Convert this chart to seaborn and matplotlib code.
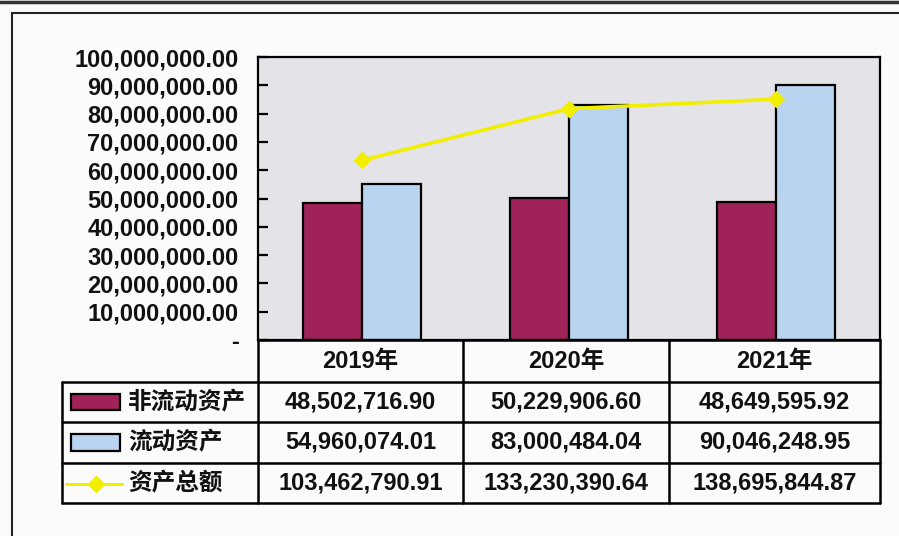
import matplotlib
matplotlib.use("Agg")
import matplotlib.pyplot as plt
from matplotlib.lines import Line2D
from matplotlib.patches import Rectangle
from matplotlib.ticker import FuncFormatter, MultipleLocator
import seaborn as sns
import pandas as pd
import numpy as np

# ---------------- data ----------------
years = ["2019年", "2020年", "2021年"]
series_names = ["非流动资产", "流动资产", "资产总额"]
non_current = [48502716.90, 50229906.60, 48649595.92]
current = [54960074.01, 83000484.04, 90046248.95]
total = [103462790.91, 133230390.64, 138695844.87]

colors = {"非流动资产": "#9f2358", "流动资产": "#b9d4f0", "资产总额": "#f2ee00"}

sns.set_theme(style="white")
plt.rcParams["font.family"] = ["Liberation Sans", "Noto Sans CJK SC", "DejaVu Sans"]
plt.rcParams["font.weight"] = "bold"

W, H = 899, 536
fig = plt.figure(figsize=(W / 100, H / 100), dpi=100, facecolor="#fbfbfb")


def fx(x):
    return x / W


def fy(y):
    return 1 - y / H


# plot area in pixel coordinates
L, R, T, B = 258, 880, 57, 340
ax = fig.add_axes([fx(L), fy(B), fx(R) - fx(L), fy(T) - fy(B)])
ax.set_facecolor("#e4e3e7")

df = pd.DataFrame({
    "year": years * 2,
    "series": [series_names[0]] * 3 + [series_names[1]] * 3,
    "value": non_current + current,
})
sns.barplot(data=df, x="year", y="value", hue="series",
            palette=[colors[series_names[0]], colors[series_names[1]]],
            width=0.57, gap=0, edgecolor="black", linewidth=1.6,
            legend=False, ax=ax, saturation=1)

ax.set_xlim(-0.5, len(years) - 0.5)
ax.set_ylim(0, 100_000_000)
ax.yaxis.set_major_locator(MultipleLocator(10_000_000))
ax.yaxis.set_major_formatter(FuncFormatter(lambda v, p: "-" if abs(v) < 1 else f"{v:,.2f}"))
ax.set_xlabel("")
ax.set_ylabel("")
ax.set_xticks([])
ax.tick_params(axis="y", direction="in", length=7, width=1.6, color="black",
               pad=14, labelsize=17, labelcolor="#111111")
for lab in ax.get_yticklabels():
    lab.set_fontweight("bold")
for s in ax.spines.values():
    s.set_color("black")
    s.set_linewidth(1.6)

# secondary (hidden) axis for the total line
ax2 = ax.twinx()
tdf = pd.DataFrame({"year": years, "value": total})
sns.pointplot(data=tdf, x="year", y="value", color=colors["资产总额"], ax=ax2,
              markers="D", linestyles="-", markersize=7, linewidth=2.6)
ax2.set_xlim(-0.5, len(years) - 0.5)
ax2.set_ylim(0, 163_000_000)
ax2.set_yticks([])
ax2.set_ylabel("")
ax2.set_xlabel("")
for s in ax2.spines.values():
    s.set_visible(False)

# ---------------- data table ----------------
lw = 1.8
col_x = [258, 463, 669, 880]
row_y = [340, 382, 422, 463, 503]
leg_left = 62


def hline(x0, x1, y, w=lw, c="black"):
    fig.add_artist(Line2D([fx(x0), fx(x1)], [fy(y), fy(y)], color=c, linewidth=w))


def vline(x, y0, y1, w=lw, c="black"):
    fig.add_artist(Line2D([fx(x), fx(x)], [fy(y0), fy(y1)], color=c, linewidth=w))


hline(col_x[0], col_x[-1], row_y[0])
for y in row_y[1:]:
    hline(leg_left, col_x[-1], y)
for x in col_x:
    vline(x, row_y[0], row_y[-1])
vline(leg_left, row_y[1], row_y[-1])

txt_kw = dict(fontsize=17, fontweight="bold", color="#111111", ha="center", va="center")
for i, yr in enumerate(years):
    cx = (col_x[i] + col_x[i + 1]) / 2
    fig.text(fx(cx), fy((row_y[0] + row_y[1]) / 2), yr, **txt_kw)
    for r, vals in enumerate([non_current, current, total]):
        cy = (row_y[r + 1] + row_y[r + 2]) / 2
        fig.text(fx(cx), fy(cy), f"{vals[i]:,.2f}", **txt_kw)

# legend keys + names
for r, name in enumerate(series_names):
    cy = (row_y[r + 1] + row_y[r + 2]) / 2
    if r < 2:
        fig.add_artist(Rectangle((fx(71), fy(cy + 8)), fx(120) - fx(71), fy(cy - 8) - fy(cy + 8),
                                 facecolor=colors[name], edgecolor="black", linewidth=1.6,
                                 transform=fig.transFigure))
    else:
        fig.add_artist(Line2D([fx(66), fx(122)], [fy(cy + 1), fy(cy + 1)], color=colors[name],
                              linewidth=2.2, transform=fig.transFigure))
        fig.add_artist(Line2D([fx(96)], [fy(cy + 1)], color=colors[name], marker="D",
                              markersize=8, linestyle="none", transform=fig.transFigure))
    fig.text(fx(128), fy(cy), name, fontsize=17, fontweight="bold", color="#111111",
             ha="left", va="center", family=["Noto Sans CJK SC", "DejaVu Sans"])

# outer frame / page edge
hline(0, W, 2, w=2.5, c="#333333")
hline(12, W, 13, w=1.5, c="#222222")
vline(12, 13, H, w=1.5, c="#222222")

fig.savefig("out.png", dpi=100, facecolor=fig.get_facecolor())
